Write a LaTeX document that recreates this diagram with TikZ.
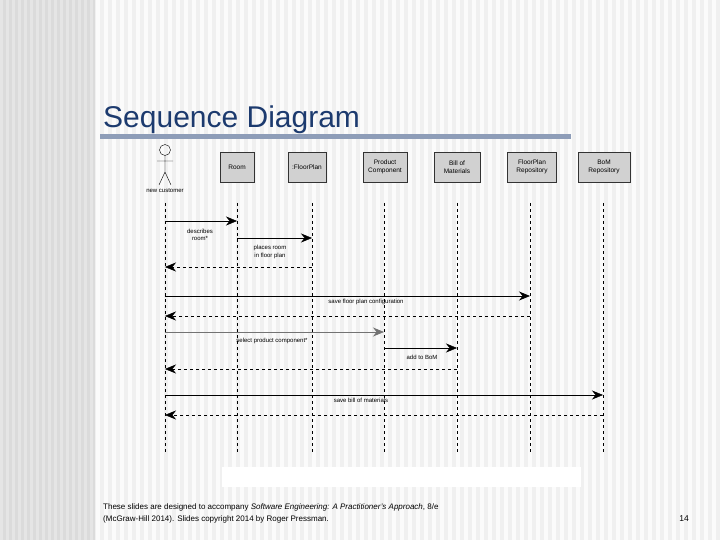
\documentclass[tikz,border=0pt]{standalone}
\usepackage{fontspec}
\setmainfont{Liberation Sans}
\usetikzlibrary{arrows.meta}
\definecolor{titleblue}{HTML}{1C3A6E}
\definecolor{barcol}{HTML}{8E9DB8}
\tikzset{
  obj/.style={draw=black!80,fill=black!18,minimum width=#1,minimum height=30pt,inner sep=1pt,align=center,font=\fontsize{6.5}{8}\selectfont},
  life/.style={dashed,black,thin},
  msg/.style={-{Stealth[length=11pt,width=9pt]},black,thin},
  ret/.style={dashed,-{Stealth[length=11pt,width=9pt]},black,thin},
  lbl/.style={font=\fontsize{6}{7.5}\selectfont,align=center,inner sep=0pt},
  foot/.style={anchor=base west,font=\fontsize{8}{9}\selectfont,inner sep=0pt}
}
\begin{document}
\begin{tikzpicture}[x=1pt,y=-1pt]
\useasboundingbox (0,0) rectangle (720,540);
\fill[black!6] (0,0) rectangle (720,540);
\foreach \i in {0,8,...,712} \fill[white!60!black!4] (\i,0) rectangle (\i+4,540);
\fill[black!14] (0,0) rectangle (95,540);
\foreach \i in {0,6,...,90} \fill[black!10] (\i,0) rectangle (\i+3,540);
\node[anchor=base west,text=titleblue,font=\fontsize{30}{34}\selectfont,inner sep=0pt] (title) at (103,128) {Sequence Diagram};
\fill[barcol] (100,134.5) rectangle (571,139.5);
% actor
\draw[thin] (165,150) circle (5.5);
\draw[thin] (165,155.5) -- (165,172) (157,161) -- (173,161) (165,172) -- (159,185) (165,172) -- (171,185);
\node[lbl] (cust) at (165,191) {new customer};
\node[obj=34pt] (room) at (237,167) {Room};
\node[obj=38pt] (fp) at (307,167) {:FloorPlan};
\node[obj=44pt] (pc) at (385,167) {Product\\Component};
\node[obj=46pt] (bom) at (457,167) {Bill of\\Materials};
\node[obj=49pt] (fpr) at (532,167) {FloorPlan\\Repository};
\node[obj=52pt] (bomr) at (604,167) {BoM\\Repository};
\foreach \n/\x in {c/165,r/237,f/312,p/384,b/457,q/530,s/603}{
  \coordinate (\n0) at (\x,203); \coordinate (\n1) at (\x,452);
  \draw[life] (\n0) -- (\n1);
}
\foreach \n/\x in {c/165,r/237,f/312,p/384,b/457,q/530,s/603}{
  \foreach \k/\y in {1/221,2/238,3/267,4/296,5/316,6/332,7/348,8/369,9/395,10/415}
    \coordinate (\n m\k) at (\x,\y);
}
\draw[msg] (cm1) -- (rm1);
\node[lbl] (l1) at (200,235) {describes\\room*};
\draw[msg] (rm2) -- (fm2);
\node[lbl] (l2) at (270,252) {places room\\in floor plan};
\draw[ret] (fm3) -- (cm3);
\draw[msg,thick] (cm4) -- (qm4);
\node[lbl] (l4) at (366,301.5) {save floor plan configuration};
\draw[ret] (qm5) -- (cm5);
\draw[msg,black!55,thick] (cm6) -- (pm6);
\node[lbl] (l6) at (272,341) {select product component*};
\draw[msg] (pm7) -- (bm7);
\node[lbl] (l7) at (422,357) {add to BoM};
\draw[ret] (bm8) -- (cm8);
\draw[msg] (cm9) -- (sm9);
\node[lbl] (l9) at (361,400) {save bill of materials};
\draw[ret] (sm10) -- (cm10);
\fill[white] (222,467) rectangle (581,487);
\node[foot] (foot1) at (103,509.5) {These slides are designed to accompany \textit{Software Engineering: A Practitioner's Approach}, 8/e};
\node[foot] (foot2) at (103,521.5) {(McGraw-Hill 2014). Slides copyright 2014 by Roger Pressman.};
\node[anchor=base,font=\fontsize{8.5}{9}\selectfont,inner sep=0pt] (pg) at (684,521.5) {14};
\end{tikzpicture}
\end{document}
